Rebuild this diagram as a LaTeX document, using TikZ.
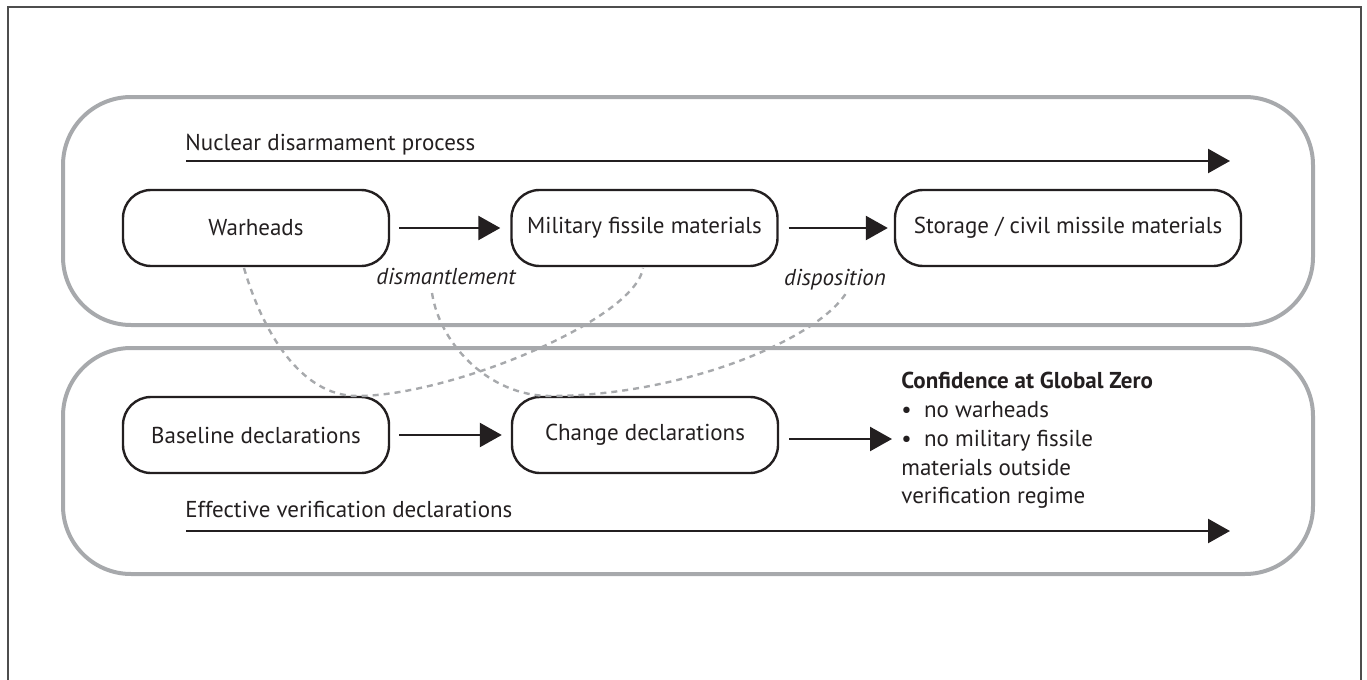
\documentclass[tikz,border=0pt]{standalone}
\usepackage{fontspec}
\setmainfont{PT Sans}
\usetikzlibrary{arrows.meta}
\definecolor{grp}{HTML}{A7A9AC}
\definecolor{ink}{HTML}{231F20}
\definecolor{framecol}{HTML}{4D4D4D}
\begin{document}
\begin{tikzpicture}[x=0.5pt,y=-0.5pt,
  stepbox/.style={draw=ink, line width=1.2pt, rounded corners=14pt, minimum width=133pt, minimum height=38pt, inner sep=0pt, font=\fontsize{11.5}{14}\selectfont, text=ink},
  flow/.style={draw=ink, line width=1.25pt, -{Triangle[length=11pt,width=12pt]}},
  grpbox/.style={draw=grp, line width=2pt, rounded corners=34pt},
  link/.style={draw=grp, line width=1.2pt, dash pattern=on 3pt off 2.5pt},
  lbl/.style={font=\fontsize{11.5}{14}\selectfont, text=ink, inner sep=0pt},
]
\useasboundingbox (0,0) rectangle (1367,680);
\draw[framecol, line width=0.75pt] (8,680) -- (8,7) -- (1361,7) -- (1361,680);

% group containers
\draw[grpbox] (63,97) rectangle (1313,325);
\draw[grpbox] (63,348) rectangle (1313,574);

% process boxes
\node[stepbox] (war) at (256,228) {Warheads};
\node[stepbox] (mil) at (644.5,228) {Military fissile materials};
\node[stepbox, minimum width=173pt] (sto) at (1068,228) {Storage / civil missile materials};
\node[stepbox] (base) at (256,435) {Baseline declarations};
\node[stepbox] (chg) at (645,435) {Change declarations};

% flows
\draw[flow, shorten <=4.5pt, shorten >=5pt] (war) -- (mil);
\draw[flow, shorten <=5pt, shorten >=3pt] (mil) -- (sto);
\draw[flow, shorten <=4.5pt, shorten >=4.5pt] (base) -- (chg);
\coordinate (confTip) at (892,439);
\draw[flow, shorten <=5pt] (chg.east |- confTip) -- (confTip);

% process headings
\node[lbl, anchor=base west] (ndp) at (185,150) {Nuclear disarmament process};
\coordinate (ndpS) at (186,161);
\coordinate (ndpE) at (1230,161);
\draw[flow] (ndpS) -- (ndpE);

\node[lbl, anchor=base west] (evd) at (185,517) {Effective verification declarations};
\coordinate (evdS) at (186,531);
\coordinate (evdE) at (1230,531);
\draw[flow] (evdS) -- (evdE);

% edge labels
\node[lbl, anchor=base, font=\fontsize{11.5}{14}\selectfont\itshape] (dis) at (446,284) {dismantlement};
\node[lbl, anchor=base, font=\fontsize{11.5}{14}\selectfont\itshape] (dsp) at (835,285) {disposition};

% confidence block
\node[lbl, anchor=base west, font=\fontsize{11.5}{14}\selectfont\bfseries] (conf1) at (901,388) {Confidence at Global Zero};
\node[lbl, anchor=base west] (conf2) at (901,417) {\textbullet\ \ no warheads};
\node[lbl, anchor=base west] (conf3) at (901,446) {\textbullet\ \ no military fissile};
\node[lbl, anchor=base west] (conf4) at (901,475) {materials outside};
\node[lbl, anchor=base west] (conf5) at (901,503) {verification regime};

% dashed links
\coordinate (c1s) at (244,268);
\coordinate (c1m) at (357,396);
\coordinate (c1e) at (643,268);
\draw[link] (c1s) .. controls (262,330) and (300,396) .. (c1m) .. controls (450,396) and (635,320) .. (c1e);
\coordinate (c2s) at (432,293);
\coordinate (c2m) at (550,396);
\coordinate (c2e) at (848,290);
\draw[link] (c2s) .. controls (440,345) and (490,396) .. (c2m) .. controls (680,396) and (820,340) .. (c2e);
\end{tikzpicture}
\end{document}
